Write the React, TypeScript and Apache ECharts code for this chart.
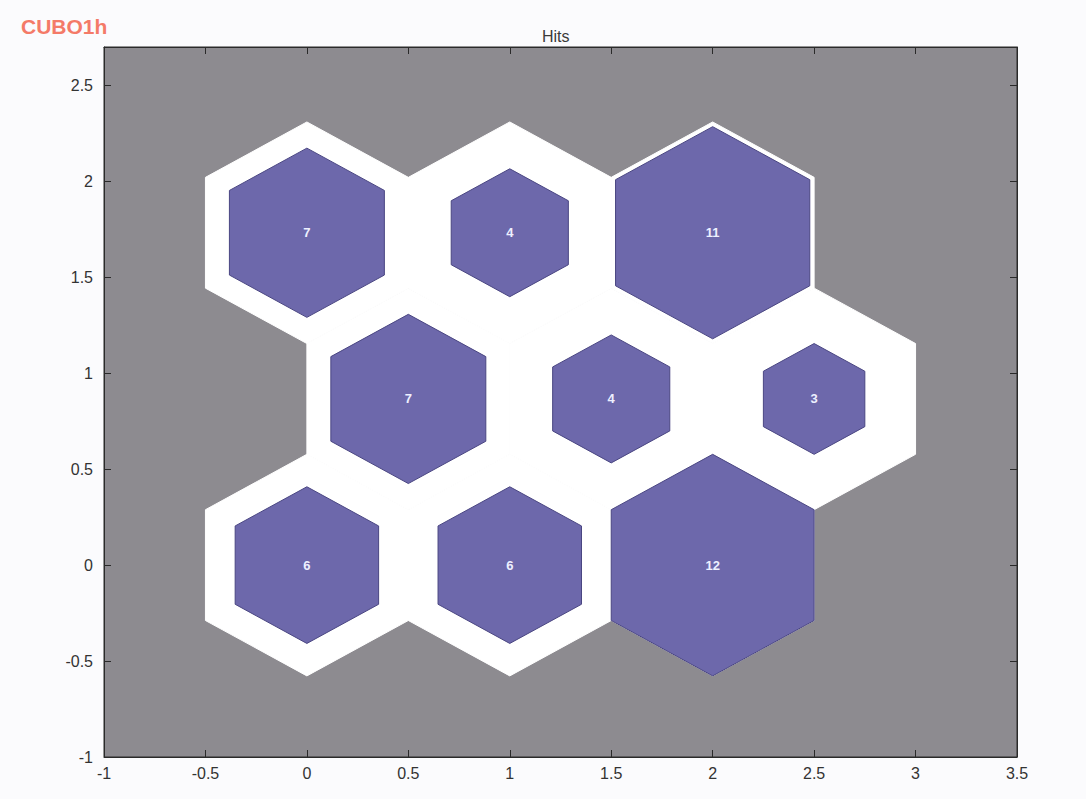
import React, { useEffect, useRef } from "react";
import * as echarts from "echarts";

const neuronX = [0, 1, 2, 0.5, 1.5, 2.5, 0, 1, 2];
const neuronY = [0, 0, 0, 0.866, 0.866, 0.866, 1.732, 1.732, 1.732];
const hits = [6, 6, 12, 7, 4, 3, 7, 4, 11];

const R = 1 / Math.sqrt(3);
const HEX = [
  [0, R],
  [0.5, R / 2],
  [0.5, -R / 2],
  [0, -R],
  [-0.5, -R / 2],
  [-0.5, R / 2],
];

export default function App() {
  const ref = useRef<HTMLDivElement>(null);
  useEffect(() => {
    if (!ref.current) return;
    const chart = echarts.init(ref.current, null, { renderer: "svg" });
    const maxHits = Math.max(...hits);
    const data = neuronX.map((x, i) => [x, neuronY[i], hits[i]]);
    const fmt = (v: number) => {
      const r = Math.round(v * 2) / 2;
      if (Math.abs(r - v) > 1e-6) return "";
      return String(r);
    };
    const tickAxisCommon = {
      axisLine: { show: true, onZero: false, lineStyle: { color: "#2a2a2a", width: 1 } },
      axisTick: { show: true, inside: true, length: 7, lineStyle: { color: "#2a2a2a" } },
      splitLine: { show: false },
    };
    chart.setOption({
      animation: false,
      backgroundColor: "#fbfbfd",
      title: [
        {
          text: "CUBO1h",
          left: 16,
          top: 11,
          textStyle: { fontFamily: "Liberation Sans, Arial", fontWeight: "bold", fontSize: 21, color: "#f47a68" },
        },
        {
          text: "Hits",
          left: 537,
          top: 23,
          textStyle: { fontFamily: "Liberation Sans, Arial", fontWeight: "normal", fontSize: 16, color: "#3a3a3a" },
        },
      ],
      grid: {
        left: 104,
        right: 69,
        top: 47,
        bottom: 42,
        show: true,
        backgroundColor: "#8d8b90",
        borderColor: "#2a2a2a",
        borderWidth: 1,
      },
      xAxis: [
        {
          type: "value",
          min: -1,
          max: 3.5,
          interval: 0.5,
          ...tickAxisCommon,
          axisLabel: {
            formatter: fmt,
            color: "#333",
            fontSize: 16,
            fontFamily: "Liberation Sans, Arial",
            margin: 8,
          },
        },
        {
          type: "value",
          position: "top",
          min: -1,
          max: 3.5,
          interval: 0.5,
          ...tickAxisCommon,
          axisLabel: { show: false },
        },
      ],
      yAxis: [
        {
          type: "value",
          min: -1,
          max: 2.7,
          interval: 0.5,
          ...tickAxisCommon,
          axisLabel: {
            formatter: fmt,
            color: "#333",
            fontSize: 16,
            fontFamily: "Liberation Sans, Arial",
            margin: 11,
            showMaxLabel: false,
          },
        },
        {
          type: "value",
          position: "right",
          min: -1,
          max: 2.7,
          interval: 0.5,
          ...tickAxisCommon,
          axisLabel: { show: false },
        },
      ],
      series: [
        {
          type: "custom",
          data,
          clip: true,
          renderItem: (params: any, api: any) => {
            const x = api.value(0);
            const y = api.value(1);
            const pts = HEX.map(([dx, dy]) => api.coord([x + dx, y + dy]));
            return {
              type: "polygon",
              shape: { points: pts },
              style: { fill: "#ffffff", stroke: "#ffffff", lineWidth: 1 },
            };
          },
        },
        {
          type: "custom",
          data,
          clip: true,
          renderItem: (params: any, api: any) => {
            const x = api.value(0);
            const y = api.value(1);
            const h = api.value(2);
            const s = Math.sqrt(h / maxHits);
            const pts = HEX.map(([dx, dy]) => api.coord([x + dx * s, y + dy * s]));
            const c = api.coord([x, y]);
            return {
              type: "group",
              children: [
                {
                  type: "polygon",
                  shape: { points: pts },
                  style: { fill: "#6d68ab", stroke: "#4a4682", lineWidth: 1 },
                },
                {
                  type: "text",
                  x: c[0],
                  y: c[1],
                  style: {
                    text: String(h),
                    fill: "#eef0ff",
                    fontSize: 13,
                    fontWeight: "bold",
                    fontFamily: "Liberation Sans, Arial",
                    align: "center",
                    verticalAlign: "middle",
                  },
                },
              ],
            };
          },
        },
      ],
    });
    return () => chart.dispose();
  }, []);
  return (
    <div
      ref={ref}
      style={{ position: "fixed", left: 0, top: 0, width: 1086, height: 799 }}
    />
  );
}
